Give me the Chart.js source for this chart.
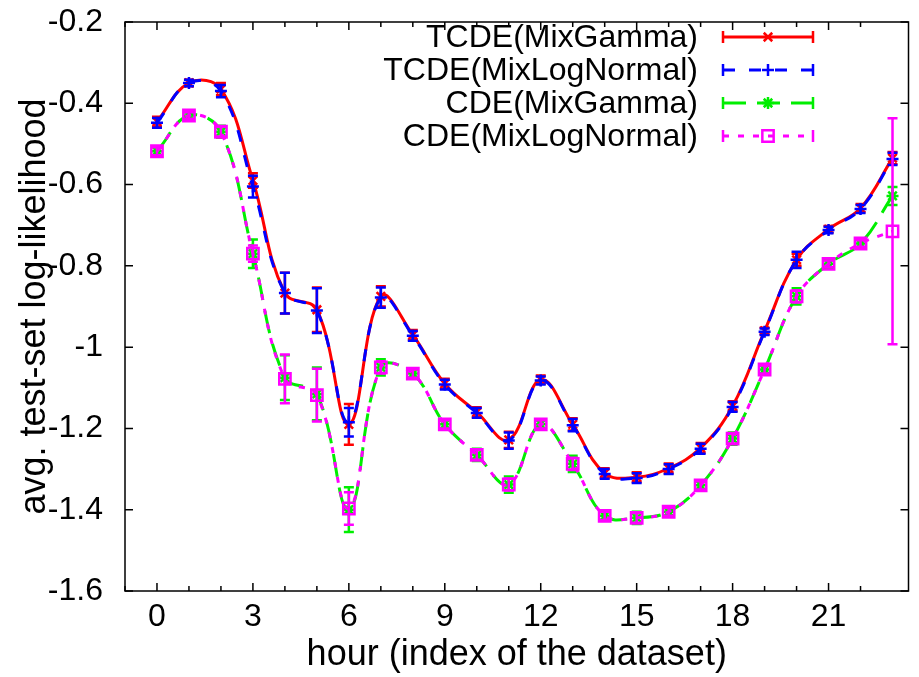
<!DOCTYPE html>
<html>
<head>
<meta charset="utf-8">
<script src="https://cdn.jsdelivr.net/npm/chart.js@4/dist/chart.umd.min.js"></script>
<style>
  html, body { margin: 0; padding: 0; background: #fff; }
  #wrap { width: 919px; height: 677px; }
</style>
</head>
<body>
<div id="wrap"><canvas id="chart"></canvas></div>
<script>
const hours = [0, 1, 2, 3, 4, 5, 6, 7, 8, 9, 10, 11, 12, 13, 14, 15, 16, 17, 18, 19, 20, 21, 22, 23];

const tcdeGamma = [-0.445, -0.35, -0.365, -0.59, -0.867, -0.908, -1.19, -0.875, -0.97, -1.09, -1.16, -1.228, -1.08, -1.19, -1.31, -1.32, -1.298, -1.248, -1.145, -0.96, -0.785, -0.71, -0.658, -0.535];
const tcdeGammaErr = [0.012, 0.008, 0.015, 0.018, 0.05, 0.055, 0.05, 0.025, 0.012, 0.012, 0.012, 0.02, 0.01, 0.015, 0.012, 0.012, 0.012, 0.012, 0.012, 0.008, 0.015, 0.008, 0.01, 0.015];

const tcdeLogNormal = [-0.448, -0.35, -0.37, -0.605, -0.867, -0.91, -1.185, -0.878, -0.972, -1.092, -1.162, -1.23, -1.082, -1.192, -1.312, -1.322, -1.3, -1.25, -1.147, -0.962, -0.785, -0.712, -0.66, -0.537];
const tcdeLogNormalErr = [0.012, 0.008, 0.015, 0.027, 0.05, 0.055, 0.035, 0.025, 0.012, 0.012, 0.012, 0.02, 0.01, 0.015, 0.012, 0.012, 0.012, 0.012, 0.012, 0.008, 0.02, 0.008, 0.01, 0.015];

const cdeGamma = [-0.518, -0.43, -0.47, -0.77, -1.075, -1.115, -1.4, -1.05, -1.065, -1.19, -1.265, -1.338, -1.19, -1.287, -1.415, -1.42, -1.405, -1.34, -1.225, -1.055, -0.875, -0.795, -0.745, -0.628];
const cdeGammaErr = [0.012, 0.008, 0.015, 0.035, 0.055, 0.065, 0.055, 0.02, 0.012, 0.012, 0.015, 0.02, 0.012, 0.02, 0.012, 0.015, 0.012, 0.012, 0.015, 0.012, 0.02, 0.01, 0.01, 0.022];

const cdeLogNormal = [-0.518, -0.43, -0.47, -0.77, -1.078, -1.118, -1.397, -1.05, -1.065, -1.19, -1.265, -1.338, -1.19, -1.287, -1.415, -1.42, -1.405, -1.34, -1.225, -1.055, -0.875, -0.795, -0.745, -0.715];
const cdeLogNormalErr = [0.01, 0.008, 0.012, 0.02, 0.06, 0.065, 0.04, 0.015, 0.01, 0.01, 0.012, 0.015, 0.01, 0.015, 0.01, 0.012, 0.01, 0.01, 0.012, 0.01, 0.015, 0.008, 0.008, 0.278];

const seriesNames = ['TCDE(MixGamma)', 'TCDE(MixLogNormal)', 'CDE(MixGamma)', 'CDE(MixLogNormal)'];
const xTickLabels = [0, 3, 6, 9, 12, 15, 18, 21];
const yTickValues = [-1.6, -1.4, -1.2, -1.0, -0.8, -0.6, -0.4, -0.2];

const FONT = "'Liberation Sans', Arial, Helvetica, sans-serif";

function pts(ys) {
  return hours.map((h, i) => ({ x: h, y: ys[i] }));
}

function makeSet(label, ys, errs, color, dash, style, radius, order) {
  return {
    label: label,
    data: pts(ys),
    errors: errs,
    borderColor: color,
    backgroundColor: color,
    borderWidth: 3,
    borderDash: dash,
    tension: 0.4,
    pointStyle: style,
    pointRadius: radius,
    pointBorderColor: color,
    pointBackgroundColor: 'rgba(0,0,0,0)',
    pointBorderWidth: 2.5,
    order: order
  };
}

const datasets = [
  makeSet(seriesNames[0], tcdeGamma, tcdeGammaErr, '#ff0000', [], 'crossRot', 6, 3),
  makeSet(seriesNames[1], tcdeLogNormal, tcdeLogNormalErr, '#0000ff', [12, 14], 'cross', 6, 2),
  makeSet(seriesNames[2], cdeGamma, cdeGammaErr, '#00ee00', [23, 11], 'star', 6, 1),
  makeSet(seriesNames[3], cdeLogNormal, cdeLogNormalErr, '#ff00ff', [6, 9], 'rect', 8, 0)
];

// error bars drawn right after each dataset so stacking follows the series
const errorBars = {
  id: 'errorBars',
  afterDatasetDraw(chart, args) {
    const ds = chart.data.datasets[args.index];
    const ctx = chart.ctx;
    const xs = chart.scales.x, ys = chart.scales.y;
    ctx.save();
    ctx.strokeStyle = ds.borderColor;
    ctx.lineWidth = 2.5;
    ctx.setLineDash([]);
    ds.data.forEach((p, i) => {
      const e = ds.errors[i];
      const px = xs.getPixelForValue(p.x);
      const top = ys.getPixelForValue(p.y + e);
      const bot = ys.getPixelForValue(p.y - e);
      ctx.beginPath();
      ctx.moveTo(px, top); ctx.lineTo(px, bot);
      ctx.moveTo(px - 5, top); ctx.lineTo(px + 5, top);
      ctx.moveTo(px - 5, bot); ctx.lineTo(px + 5, bot);
      ctx.stroke();
    });
    ctx.restore();
  }
};

// gnuplot-like frame with inward ticks on all four sides, and the key
const frame = {
  id: 'frame',
  afterDraw(chart) {
    const ctx = chart.ctx;
    const a = chart.chartArea;
    const xs = chart.scales.x, ys = chart.scales.y;
    ctx.save();
    ctx.strokeStyle = '#000';
    ctx.lineWidth = 1.5;
    ctx.setLineDash([]);
    ctx.strokeRect(a.left, a.top, a.right - a.left, a.bottom - a.top);
    ctx.beginPath();
    xs.ticks.forEach(t => {
      if (t.value !== Math.round(t.value)) return;
      const px = xs.getPixelForValue(t.value);
      const len = (t.value % 3 === 0) ? 8 : 5;
      ctx.moveTo(px, a.bottom); ctx.lineTo(px, a.bottom - len);
      ctx.moveTo(px, a.top); ctx.lineTo(px, a.top + len);
    });
    yTickValues.forEach(v => {
      const py = ys.getPixelForValue(v);
      ctx.moveTo(a.left, py); ctx.lineTo(a.left + 8, py);
      ctx.moveTo(a.right, py); ctx.lineTo(a.right - 8, py);
    });
    ctx.stroke();

    // key
    const textRight = 698, x0 = 723, x1 = 813, rowY = [37, 70, 103, 136];
    ctx.font = '32px ' + FONT;
    ctx.textAlign = 'right';
    ctx.textBaseline = 'middle';
    chart.data.datasets.forEach((ds, i) => {
      const y = rowY[i];
      ctx.fillStyle = '#000';
      ctx.fillText(ds.label, textRight, y + 1);
      ctx.strokeStyle = ds.borderColor;
      ctx.lineWidth = 3;
      ctx.setLineDash(ds.borderDash);
      ctx.beginPath();
      ctx.moveTo(x0, y); ctx.lineTo(x1, y);
      ctx.stroke();
      ctx.setLineDash([]);
      ctx.lineWidth = 2.5;
      ctx.beginPath();
      ctx.moveTo(x0, y - 6); ctx.lineTo(x0, y + 6);
      ctx.moveTo(x1, y - 6); ctx.lineTo(x1, y + 6);
      ctx.stroke();
      ctx.fillStyle = 'rgba(0,0,0,0)';
      Chart.helpers.drawPoint(ctx, {
        pointStyle: ds.pointStyle, rotation: 0,
        radius: ds.pointRadius, borderWidth: 2.5
      }, (x0 + x1) / 2, y);
    });
    ctx.restore();
  }
};

function noPad(s) {
  s.paddingTop = 0; s.paddingBottom = 0;
  s.paddingLeft = 0; s.paddingRight = 0;
}

new Chart(document.getElementById('chart'), {
  type: 'line',
  data: { datasets: datasets },
  plugins: [errorBars, frame],
  options: {
    responsive: true,
    maintainAspectRatio: false,
    animation: false,
    events: [],
    layout: { padding: { left: 0, right: 7, top: 22, bottom: 0 } },
    plugins: {
      legend: { display: false },
      tooltip: { enabled: false }
    },
    scales: {
      x: {
        type: 'linear',
        min: -1,
        max: 23.5,
        afterFit: s => { s.height = 86; noPad(s); },
        border: { display: false },
        grid: { display: false, drawTicks: false },
        ticks: {
          stepSize: 1,
          autoSkip: false,
          maxRotation: 0,
          padding: 7,
          color: '#000',
          font: { family: FONT, size: 32 },
          callback: v => xTickLabels.includes(v) ? String(v) : ''
        },
        title: {
          display: true,
          text: 'hour (index of the dataset)',
          color: '#000',
          font: { family: FONT, size: 36 },
          padding: { top: 0, bottom: 0 }
        }
      },
      y: {
        type: 'linear',
        min: -1.6,
        max: -0.2,
        afterFit: s => { s.width = 125; noPad(s); },
        border: { display: false },
        grid: { display: false, drawTicks: false },
        ticks: {
          stepSize: 0.2,
          padding: 22,
          color: '#000',
          font: { family: FONT, size: 32 },
          callback: v => String(Math.round(v * 10) / 10)
        },
        title: {
          display: true,
          text: 'avg. test-set log-likelihood',
          color: '#000',
          font: { family: FONT, size: 36 },
          padding: { top: 13, bottom: 0 }
        }
      }
    }
  }
});
</script>
</body>
</html>
